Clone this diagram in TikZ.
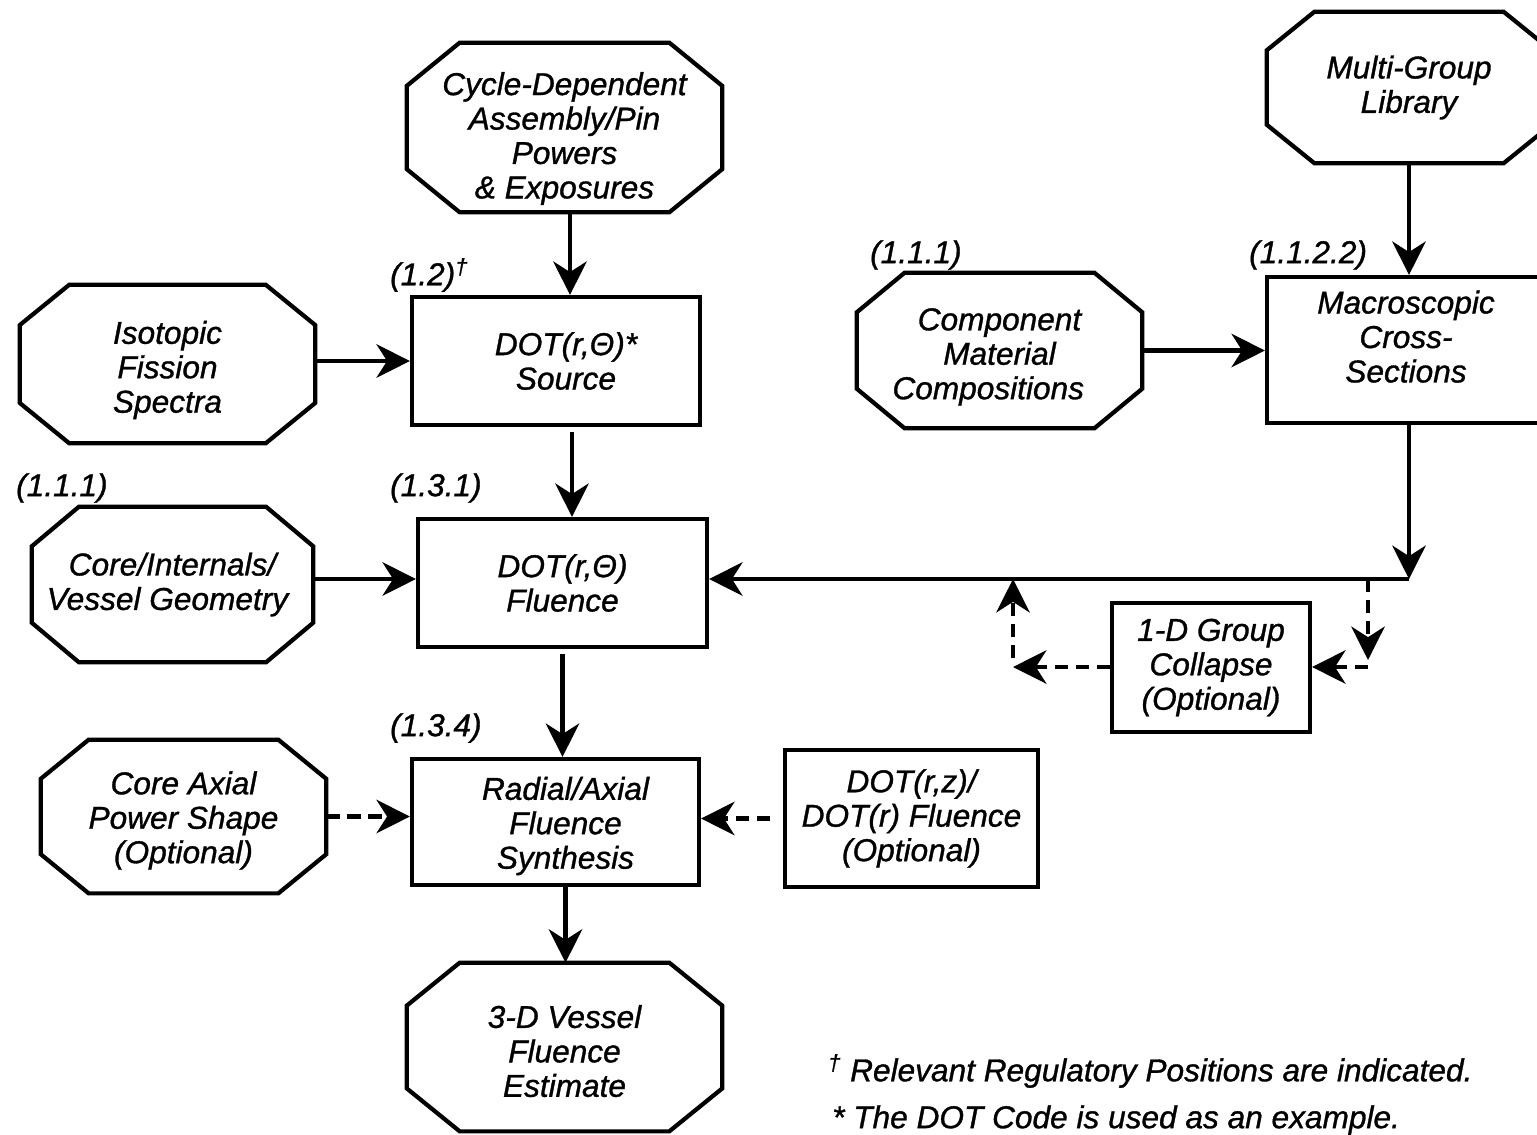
\documentclass[tikz,border=0pt]{standalone}
\usepackage{fontspec}
\setmainfont{Liberation Sans}[ItalicFeatures={FakeBold=1}]
\usepackage{tikz}
\usetikzlibrary{arrows.meta,positioning,calc}

\begin{document}
\begin{tikzpicture}[x=0.02cm,y=-0.02cm,
    font=\itshape\fontsize{18}{19.6}\selectfont,
    block/.style={rectangle,draw,line width=2.4pt,align=center},
    octa/.style={rectangle,align=center},
    tag/.style={anchor=west},
    arr/.style={line width=2.6pt,-{Stealth[length=19pt,width=19pt,inset=6pt]}},
    darr/.style={arr,dash pattern=on 7.5pt off 4.5pt}]
  \useasboundingbox (0,0) rectangle (1537,1134);

  % inputs (octagons) and code steps (boxes)
  \node[octa, minimum width=6.30cm, minimum height=3.38cm] (cyc_pow) at (564.5,127.5) {\rule{0pt}{0.9cm}Cycle-Dependent\\Assembly/Pin\\Powers\\\& Exposures};
  \node[octa, minimum width=5.68cm, minimum height=3.02cm] (mg_lib) at (1409,87.5) {Multi-Group\\Library};
  \node[block, minimum width=5.76cm, minimum height=2.56cm] (dot_src) at (556,361) {\hspace*{0.4cm}DOT(r,Θ)*\\\hspace*{0.4cm}Source};
  \node[octa, minimum width=5.90cm, minimum height=3.16cm] (iso_spec) at (167.5,364) {\rule{0pt}{0.7cm}Isotopic\\Fission\\Spectra};
  \node[octa, minimum width=5.70cm, minimum height=3.10cm] (comp_mat) at (999.5,350.5) {\rule{0pt}{0.7cm}Component\\Material\\Compositions\hspace*{0.45cm}};
  \node[block, minimum width=5.56cm, minimum height=2.92cm] (macro_xs) at (1406,350) {Macroscopic\\Cross-\\Sections\rule[-0.54cm]{0pt}{0.54cm}};
  \node[block, minimum width=5.78cm, minimum height=2.56cm] (dot_flu) at (562.5,583) {DOT(r,Θ)\\Fluence};
  \node[octa, minimum width=5.62cm, minimum height=3.10cm] (core_geom) at (172.5,584.5) {Core/Internals/\\Vessel Geometry\hspace*{0.2cm}};
  \node[block, minimum width=3.96cm, minimum height=2.58cm] (grp_coll) at (1211,667.5) {1-D Group\\Collapse\\(Optional)};
  \node[block, minimum width=5.74cm, minimum height=2.52cm] (flu_syn) at (555.5,822) {\rule{0pt}{0.62cm}\hspace*{0.4cm}Radial/Axial\\\hspace*{0.4cm}Fluence\\\hspace*{0.4cm}Synthesis};
  \node[octa, minimum width=5.70cm, minimum height=3.06cm] (ax_shape) at (183.5,816.5) {\rule{0pt}{0.62cm}Core Axial\\Power Shape\\(Optional)};
  \node[block, minimum width=5.06cm, minimum height=2.74cm] (dot_rz) at (911.5,818.5) {DOT(r,z)/\\DOT(r) Fluence\\(Optional)};
  \node[octa, minimum width=6.30cm, minimum height=3.36cm] (ves_flu) at (564.5,1047) {\rule{0pt}{0.62cm}3-D Vessel\\Fluence\\Estimate};

  \foreach \n in {cyc_pow,mg_lib,iso_spec,comp_mat,core_geom,ax_shape,ves_flu}
    \draw[line width=2.4pt] ($(\n.north west)!0.168!(\n.north east)$) -- ($(\n.north east)!0.168!(\n.north west)$)
      -- ($(\n.north east)!0.255!(\n.south east)$) -- ($(\n.south east)!0.255!(\n.north east)$)
      -- ($(\n.south east)!0.168!(\n.south west)$) -- ($(\n.south west)!0.168!(\n.south east)$)
      -- ($(\n.south west)!0.255!(\n.north west)$) -- ($(\n.north west)!0.255!(\n.south west)$) -- cycle;

  % regulatory positions
  \node[tag] (tag_src) at (384,275) {(1.2)\textsuperscript{†}};
  \node[tag] (tag_comp) at (864,255) {(1.1.1)};
  \node[tag] (tag_xs) at (1243,255) {(1.1.2.2)};
  \node[tag] (tag_geom) at (10,488) {(1.1.1)};
  \node[tag] (tag_flu) at (384,488) {(1.3.1)};
  \node[tag] (tag_syn) at (384,728) {(1.3.4)};

  \node[tag] (note_reg) at (822,1071) {\textsuperscript{†} Relevant Regulatory Positions are indicated.};
  \node[tag] (note_dot) at (826,1120) {* The DOT Code is used as an example.};

  \coordinate (cyc_out) at ([xshift=0.11cm]cyc_pow.south);
  \coordinate (src_out) at ([xshift=0.32cm,yshift=-0.1cm]dot_src.south);
  \coordinate (flu_out) at ([yshift=-0.1cm]dot_flu.south);
  \coordinate (syn_out) at ([xshift=0.2cm]flu_syn.south);
  \coordinate (join) at (1409,579);
  \coordinate (tap_r) at (1368,579);
  \coordinate (bend_r) at (1368,667);
  \coordinate (bend_l) at (1013,667);
  \coordinate (tap_l) at (1013,579);

  \draw[arr] (cyc_out) -- (cyc_out |- dot_src.north);
  \draw[arr] (dot_src.west -| iso_spec.east) -- (dot_src.west);
  \draw[arr] (mg_lib.south -| join) -- (join |- macro_xs.north);
  \draw[arr] (comp_mat.east) -- (comp_mat.east -| macro_xs.west);
  \draw[arr] (src_out) -- (src_out |- dot_flu.north);
  \draw[arr] (macro_xs.south -| join) -- (join);
  \draw[arr] (join) -- (join -| dot_flu.east);
  \draw[arr] (join -| core_geom.east) -- (join -| dot_flu.west);
  \draw[arr] (flu_out) -- (flu_out |- flu_syn.north);
  \draw[arr] (syn_out) -- (syn_out |- ves_flu.north);
  \draw[darr] (ax_shape.east) -- (ax_shape.east -| flu_syn.west);
  \draw[darr] ([xshift=-0.26cm]dot_rz.west) -- (dot_rz.west -| flu_syn.east);
  % optional group collapse loop
  \draw[darr] (tap_r) -- ([yshift=0.14cm]bend_r);
  \draw[darr] (bend_r) -- (bend_r -| grp_coll.east);
  \draw[darr] (bend_r -| grp_coll.west) -- (bend_l);
  \draw[darr] ([yshift=0.18cm]bend_l) -- (tap_l);
\end{tikzpicture}
\end{document}
